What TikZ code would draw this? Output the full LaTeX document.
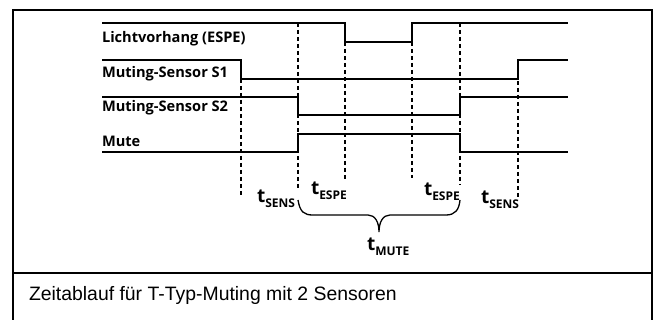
\documentclass[tikz,border=0pt]{standalone}
\usepackage{fontspec}
\setmainfont{Liberation Sans}
\newfontfamily\sigfont{Open Sans}
\usetikzlibrary{positioning}

\begin{document}
\begin{tikzpicture}[x=1pt, y=-1pt,
  every node/.style={inner sep=0pt, outer sep=0pt},
  frame/.style={line width=2pt},
  sig/.style={line width=1.3pt},
  guide/.style={line width=1.1pt, dash pattern=on 4pt off 3pt},
  lbl/.style={font=\sigfont\bfseries\fontsize{14.6}{16}\selectfont, anchor=base west},
  tlbl/.style={font=\sigfont\bfseries, anchor=base west},
  caption/.style={font=\fontsize{19.4}{22}\selectfont, anchor=base west}]
\newcommand{\tsub}[1]{{\fontsize{19}{19}\selectfont t}\raisebox{-4.5pt}{\fontsize{12}{12}\selectfont #1}}
\useasboundingbox (0,0) rectangle (655,320);
% frame and caption box
\draw[frame] (13,320) -- (13,10) -- (652,10) -- (652,320);
\draw[frame] (13,273) -- (652,273);
\node[caption] (cap) at (29,300) {Zeitablauf für T-Typ-Muting mit 2 Sensoren};
% signal names
\node[lbl] (nlicht) at (102,43) {Lichtvorhang (ESPE)};
\node[lbl] (ns1) at (102,78) {Muting-Sensor S1};
\node[lbl] (ns2) at (102,112) {Muting-Sensor S2};
\node[lbl] (nmute) at (102,147) {Mute};
% signals
\draw[sig] (102,23) -- (345,23) -- (345,42) -- (412,42) -- (412,23) -- (568,23);
\draw[sig] (102,60) -- (241,60) -- (241,79) -- (518,79) -- (518,60) -- (568,60);
\draw[sig] (102,97) -- (298,97) -- (298,115) -- (460,115) -- (460,97) -- (568,97);
\draw[sig] (102,152) -- (298,152) -- (298,134) -- (460,134) -- (460,152) -- (568,152);
% time markers
\draw[guide] (241,79) -- (241,197);
\draw[guide] (298,23) -- (298,188);
\draw[guide] (345,42) -- (345,180);
\draw[guide] (412,42) -- (412,178);
\draw[guide] (460,23) -- (460,185);
\draw[guide] (518,60) -- (518,198);
% brace
\draw[sig] (298,200) .. controls (300,212) and (304,215) .. (313,215) -- (368,215)
  .. controls (375,215) and (379,222) .. (379,232)
  .. controls (379,222) and (383,215) .. (390,215) -- (446,215)
  .. controls (455,215) and (459,210) .. (460,200);
% durations
\node[tlbl] (tsens1) at (257,203) {\tsub{SENS}};
\node[tlbl] (tespe1) at (311,195) {\tsub{ESPE}};
\node[tlbl] (tespe2) at (424,196) {\tsub{ESPE}};
\node[tlbl] (tsens2) at (481,204) {\tsub{SENS}};
\node[tlbl] (tmute) at (367,251) {\tsub{MUTE}};
\end{tikzpicture}
\end{document}
